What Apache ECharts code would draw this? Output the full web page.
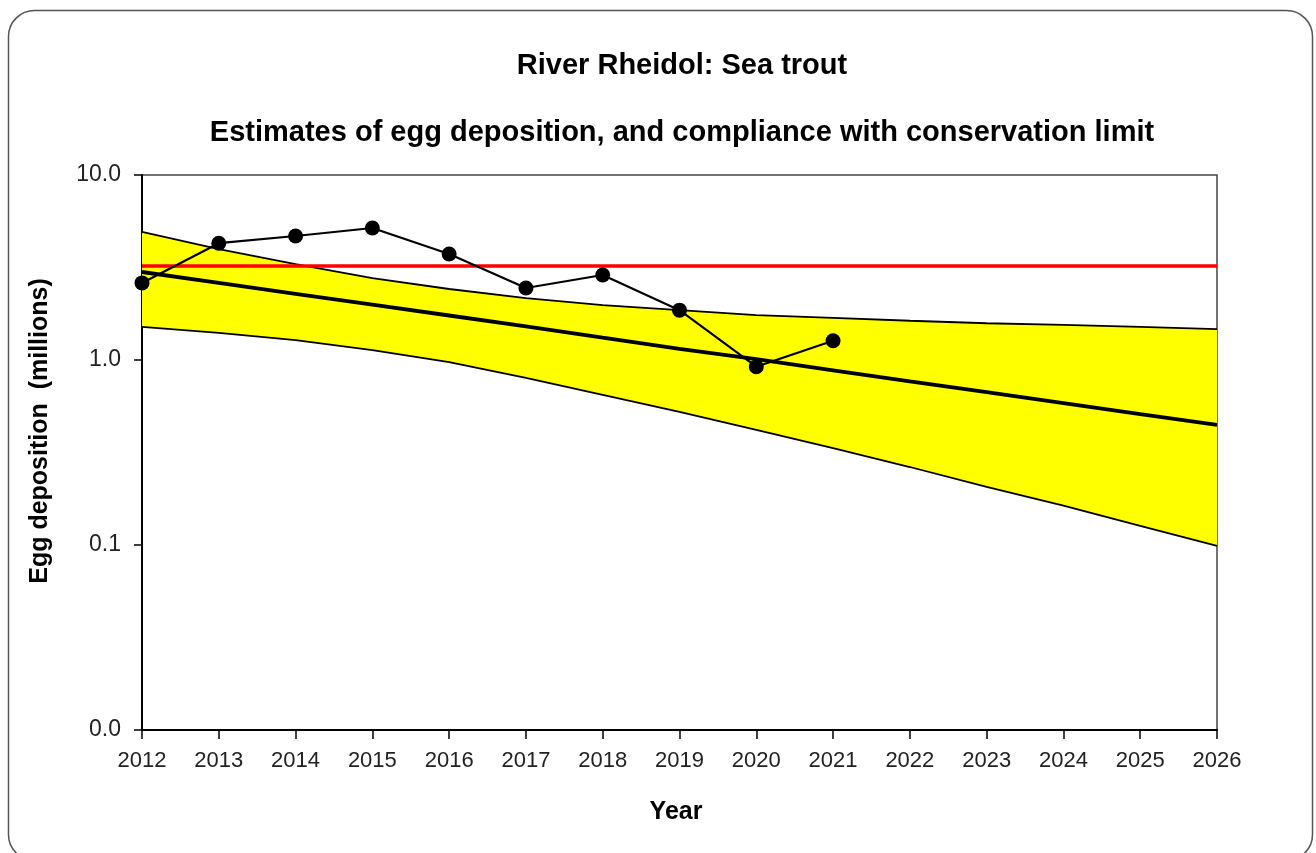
<!DOCTYPE html>
<html>
<head>
<meta charset="utf-8">
<script src="https://cdn.jsdelivr.net/npm/echarts@6/dist/echarts.min.js"></script>
<style>
  html, body { margin: 0; padding: 0; background: #fff; }
  #chart { width: 1316px; height: 853px; }
</style>
</head>
<body>
<div id="chart"></div>
<script>
// years on the x axis
const years = [2012, 2013, 2014, 2015, 2016, 2017, 2018, 2019, 2020, 2021, 2022, 2023, 2024, 2025, 2026]
// observed egg deposition (millions), 2012-2021
const obsYears = [2012, 2013, 2014, 2015, 2016, 2017, 2018, 2019, 2020, 2021]
const eggDeposition = [2.61, 4.28, 4.68, 5.17, 3.74, 2.45, 2.88, 1.86, 0.92, 1.27]
// trend line and its confidence band
const trendMid = [2.99, 2.61, 2.28, 1.99, 1.74, 1.52, 1.32, 1.15, 1.01, 0.88, 0.767, 0.67, 0.585, 0.51, 0.446]
const trendUpper = [4.92, 3.98, 3.3, 2.77, 2.42, 2.16, 1.98, 1.86, 1.75, 1.69, 1.63, 1.58, 1.55, 1.51, 1.47]
const trendLower = [1.51, 1.4, 1.28, 1.13, 0.975, 0.8, 0.647, 0.524, 0.419, 0.334, 0.264, 0.206, 0.163, 0.127, 0.099]
// conservation limit (millions)
const conservationLimit = 3.22

const font = '"Liberation Sans", Arial, sans-serif'
const pair = (xs, ys) => xs.map((x, i) => [x, ys[i]])

const chart = echarts.init(document.getElementById('chart'))
const option = {
  animation: false,
  backgroundColor: '#fff',
  title: [
    {
      text: 'River Rheidol: Sea trout',
      left: 677, top: 46, textAlign: 'center',
      textStyle: { fontFamily: font, fontSize: 29, fontWeight: 'bold', color: '#000' }
    },
    {
      text: 'Estimates of egg deposition, and compliance with conservation limit',
      left: 677, top: 113, textAlign: 'center',
      textStyle: { fontFamily: font, fontSize: 29, fontWeight: 'bold', color: '#000' }
    }
  ],
  graphic: [
    {
      type: 'rect',
      shape: { x: 8.5, y: 10.5, width: 1304, height: 850, r: 26 },
      style: { fill: 'none', stroke: '#555', lineWidth: 1.5 },
      silent: true
    },
    {
      type: 'text',
      x: 40, y: 431, rotation: Math.PI / 2,
      style: {
        text: 'Egg deposition  (millions)',
        font: 'bold 25px ' + font,
        fill: '#000', align: 'center', verticalAlign: 'middle'
      }
    },
    {
      type: 'text',
      x: 676, y: 812,
      style: {
        text: 'Year',
        font: 'bold 25px ' + font,
        fill: '#000', align: 'center', verticalAlign: 'middle'
      }
    }
  ],
  grid: {
    left: 142, right: 99, top: 175, bottom: 123,
    show: true, borderColor: '#444', borderWidth: 1.5, backgroundColor: 'transparent'
  },
  xAxis: {
    type: 'value',
    min: 2012, max: 2026, interval: 1,
    axisLine: { show: true, lineStyle: { color: '#000', width: 2 } },
    axisTick: { show: true, length: 9, lineStyle: { color: '#000', width: 1.5 } },
    axisLabel: { fontFamily: font, fontSize: 22, color: '#222', margin: 20, formatter: v => String(v) },
    splitLine: { show: false }
  },
  yAxis: {
    type: 'log',
    min: 0.01, max: 10, logBase: 10,
    axisLine: { show: true, lineStyle: { color: '#000', width: 2 } },
    axisTick: { show: true, length: 8, lineStyle: { color: '#000', width: 1.5 } },
    axisLabel: {
      fontFamily: font, fontSize: 23, color: '#222', margin: 21,
      formatter: v => v.toFixed(1)
    },
    splitLine: { show: false }
  },
  series: [
    {
      // yellow confidence band
      type: 'custom',
      z: 1,
      data: [0],
      renderItem: (params, api) => {
        const pts = []
        years.forEach((y, i) => pts.push(api.coord([y, trendUpper[i]])))
        for (let i = years.length - 1; i >= 0; i--) pts.push(api.coord([years[i], trendLower[i]]))
        return {
          type: 'polygon',
          shape: { points: pts },
          style: { fill: '#ffff00', stroke: 'none' }
        }
      },
      silent: true
    },
    {
      type: 'line', z: 2, data: pair(years, trendUpper),
      symbol: 'none', lineStyle: { color: '#000', width: 1.8 }, silent: true
    },
    {
      type: 'line', z: 2, data: pair(years, trendLower),
      symbol: 'none', lineStyle: { color: '#000', width: 1.8 }, silent: true
    },
    {
      type: 'line', z: 3, data: pair(years, trendMid),
      symbol: 'none', lineStyle: { color: '#000', width: 3.8 }, silent: true
    },
    {
      type: 'line', z: 4, data: years.map(y => [y, conservationLimit]),
      symbol: 'none', lineStyle: { color: '#ff0000', width: 3.5 }, silent: true
    },
    {
      type: 'line', z: 5, data: pair(obsYears, eggDeposition),
      symbol: 'circle', symbolSize: 15, showAllSymbol: true,
      itemStyle: { color: '#000' },
      lineStyle: { color: '#000', width: 2.2 }, silent: true
    }
  ]
}
chart.setOption(option)
</script>
</body>
</html>
